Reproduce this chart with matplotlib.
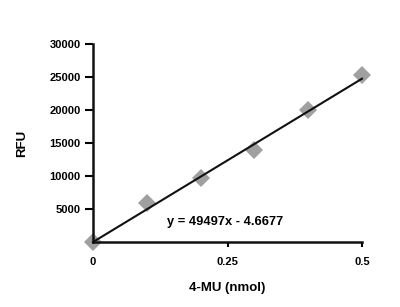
import matplotlib.pyplot as plt
import numpy as np

plt.rcParams["font.family"] = ["Liberation Sans", "DejaVu Sans"]
plt.rcParams["font.weight"] = "bold"

# standard curve, 4-MU amount vs fluorescence
nmol = [0, 0.1, 0.2, 0.3, 0.4, 0.5]
rfu = [0, 5900, 9650, 13950, 20050, 25350]

# reported linear fit
slope = 49497
intercept = -4.6677

x_ticks = [0, 0.25, 0.5]
x_ticklabels = ["0", "0.25", "0.5"]
y_ticks = [5000, 10000, 15000, 20000, 25000, 30000]

fig = plt.figure(figsize=(4.0, 3.07), dpi=100)
ax = fig.add_axes([0.2325, 0.2117, 0.6725, 0.645])

ax.plot(nmol, rfu, linestyle="none", marker="D", markersize=9,
        color="#a0a0a0", markeredgewidth=0, zorder=2, clip_on=False)

fit_x = np.array([min(nmol), max(nmol)])
ax.plot(fit_x, slope * fit_x + intercept, color="#111111", linewidth=1.5,
        zorder=3, clip_on=False)

ax.text(0.245, 3050, f"y = {slope}x - {abs(intercept)}", ha="center",
        va="center", fontsize=9.3, fontweight="bold")

ax.set_xlim(0, 0.5)
ax.set_ylim(0, 30000)
ax.set_xticks(x_ticks)
ax.set_xticklabels(x_ticklabels)
ax.set_yticks(y_ticks)

for side in ["top", "right"]:
    ax.spines[side].set_visible(False)
for side in ["left", "bottom"]:
    ax.spines[side].set_linewidth(1.8)
    ax.spines[side].set_color("#111111")

ax.tick_params(axis="y", direction="out", length=5.5, width=1.5, pad=3.5,
               labelsize=8)
ax.tick_params(axis="x", direction="out", length=3.5, width=1.5, pad=7,
               labelsize=8)

ax.set_xlabel("4-MU (nmol)", fontsize=9.5, fontweight="bold", labelpad=11)
ax.set_ylabel("RFU", fontsize=9.5, fontweight="bold", labelpad=15)

fig.savefig("out.png", dpi=100)
